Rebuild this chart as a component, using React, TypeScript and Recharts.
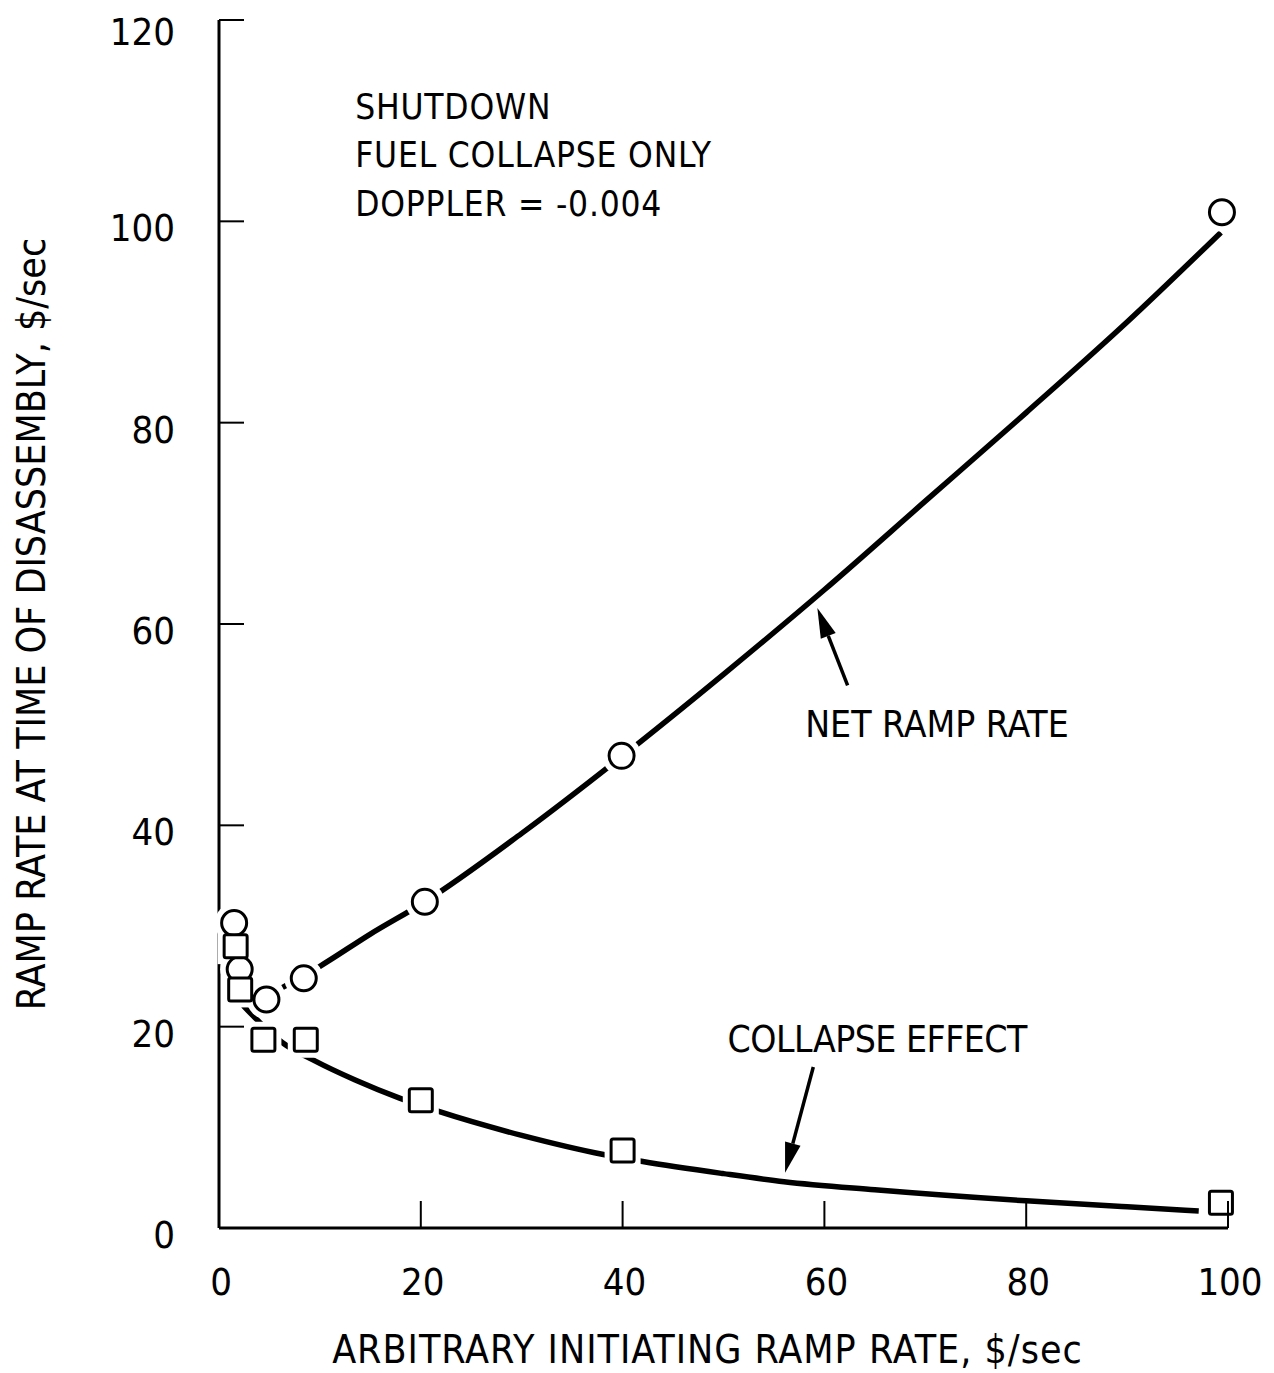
import { ComposedChart, Line, Scatter, XAxis, YAxis, ReferenceDot, ReferenceLine } from "recharts";

const FONT = '"Liberation Sans Narrow", "DejaVu Sans Condensed", "Roboto Condensed", "Liberation Sans", sans-serif';

// measured points (circles = net ramp rate, squares = collapse effect)
const netX = [1.5, 2.05, 4.7, 8.4, 20.4, 39.9, 99.4];
const netY = [30.3, 25.7, 22.7, 24.8, 32.4, 46.9, 100.9];
const collapseX = [1.65, 2.1, 4.4, 8.6, 20.0, 40.0, 99.3];
const collapseY = [28.0, 23.7, 18.7, 18.7, 12.7, 7.7, 2.5];

// hand-drawn fitted curves
const netCurveX = [6.3, 10, 15, 20.4, 30, 40, 50, 60, 70, 80, 90, 99.3];
const netCurveY = [23.9, 26.0, 29.2, 32.4, 39.2, 46.9, 55.0, 63.4, 72.2, 81.0, 90.0, 98.9];
const collapseCurveX = [2.4, 4.06, 6.3, 9.5, 13.5, 17.9, 21.7, 30, 38.1, 42, 50, 56, 65, 80, 90, 97.1];
const collapseCurveY = [22.1, 20.4, 18.4, 16.6, 14.7, 12.9, 11.6, 9.2, 7.3, 6.6, 5.4, 4.6, 3.8, 2.7, 2.1, 1.7];

const xTicks = [0, 20, 40, 60, 80, 100];
const yTicks = [0, 20, 40, 60, 80, 100, 120];

const netPoints = netX.map((x, i) => ({ x, y: netY[i] }));
const collapsePoints = collapseX.map((x, i) => ({ x, y: collapseY[i] }));
const netCurve = netCurveX.map((x, i) => ({ x, y: netCurveY[i] }));
const collapseCurve = collapseCurveX.map((x, i) => ({ x, y: collapseCurveY[i] }));

const YTick = ({ x, y, payload }: any) => (
  <g>
    <line x1={x} x2={x + 25} y1={y} y2={y} stroke="#000" strokeWidth={2} />
    <text x={x - 44} y={y + (payload.value === 120 ? 25 : 20)} textAnchor="end" fontSize={38} fontFamily={FONT} fill="#000">
      {payload.value}
    </text>
  </g>
);

const XTick = ({ x, y, payload }: any) => (
  <g>
    <line x1={x} x2={x} y1={y} y2={y - 27} stroke="#000" strokeWidth={2} />
    <text x={x + 2} y={y + 67} textAnchor="middle" fontSize={38} fontFamily={FONT} fill="#000">
      {payload.value}
    </text>
  </g>
);

const Halo = ({ cx, cy }: any) => <circle cx={cx} cy={cy} r={19.5} fill="#fff" />;
const SquareHalo = ({ cx, cy }: any) => <rect x={cx - 18} y={cy - 18} width={36} height={36} fill="#fff" />;
const Circle = ({ cx, cy }: any) => <circle cx={cx} cy={cy} r={12.5} fill="#fff" stroke="#000" strokeWidth={3} />;
const Square = ({ cx, cy }: any) => (
  <rect x={cx - 11.5} y={cy - 11.5} width={23} height={23} rx={2} fill="#fff" stroke="#000" strokeWidth={3} />
);

const Arrow = ({ x1, y1, x2, y2 }: any) => {
  const dx = x2 - x1;
  const dy = y2 - y1;
  const len = Math.sqrt(dx * dx + dy * dy);
  const ux = dx / len;
  const uy = dy / len;
  const bx = x2 - ux * 30;
  const by = y2 - uy * 30;
  const pts = `${x2},${y2} ${bx - uy * 8},${by + ux * 8} ${bx + uy * 8},${by - ux * 8}`;
  return (
    <g>
      <line x1={x1} y1={y1} x2={bx} y2={by} stroke="#000" strokeWidth={3.5} />
      <polygon points={pts} fill="#000" />
    </g>
  );
};

const textLabel = (lines: string[], size: number, gap: number, spacing: number) => ({ cx, cy }: any) => (
  <text x={cx} y={cy} fontSize={size} fontFamily={FONT} fill="#000" letterSpacing={spacing}>
    {lines.map((l, i) => (
      <tspan key={i} x={cx} dy={i === 0 ? 0 : gap}>
        {l}
      </tspan>
    ))}
  </text>
);

export default function App() {
  return (
    <ComposedChart width={1266} height={1365} margin={{ top: 12, right: 46, left: 0, bottom: 0 }}>
      <XAxis
        dataKey="x"
        type="number"
        domain={[0, 100]}
        ticks={xTicks}
        height={145}
        tickSize={0}
        tickMargin={0}
        tick={<XTick />}
        axisLine={{ stroke: "#000", strokeWidth: 3 }}
        label={(p: any) => (
          <text
            x={p.viewBox.x + p.viewBox.width / 2 - 16}
            y={p.viewBox.y + 135}
            textAnchor="middle"
            fontSize={39}
            letterSpacing={1}
            fontFamily={FONT}
            fill="#000"
          >
            ARBITRARY INITIATING RAMP RATE, $/sec
          </text>
        )}
      />
      <XAxis xAxisId="top" orientation="top" type="number" domain={[0, 100]} height={0} tick={false} axisLine={{ stroke: "#000", strokeWidth: 3 }} />
      <YAxis
        type="number"
        domain={[0, 120]}
        ticks={yTicks}
        width={211}
        tickSize={0}
        tickMargin={0}
        tick={<YTick />}
        axisLine={{ stroke: "#000", strokeWidth: 3 }}
        label={(p: any) => {
          const cx = 37;
          const cy = p.viewBox.y + p.viewBox.height / 2;
          return (
            <text
              x={cx}
              y={cy}
              transform={`rotate(-90, ${cx}, ${cy})`}
              textAnchor="middle"
              fontSize={39}
              fontFamily={FONT}
              fill="#000"
            >
              RAMP RATE AT TIME OF DISASSEMBLY,  $/sec
            </text>
          );
        }}
      />
      <YAxis yAxisId="right" orientation="right" type="number" domain={[0, 120]} width={0} tick={false} axisLine={{ stroke: "#000", strokeWidth: 3 }} />

      <Line data={netCurve} dataKey="y" type="monotone" stroke="#000" strokeWidth={5.5} dot={false} isAnimationActive={false} />
      <Line data={collapseCurve} dataKey="y" type="monotone" stroke="#000" strokeWidth={5.5} dot={false} isAnimationActive={false} />

      <Scatter data={netPoints} dataKey="y" shape={<Halo />} isAnimationActive={false} />
      <Scatter data={collapsePoints} dataKey="y" shape={<SquareHalo />} isAnimationActive={false} />
      <Scatter data={netPoints} dataKey="y" shape={<Circle />} isAnimationActive={false} />
      <Scatter data={collapsePoints} dataKey="y" shape={<Square />} isAnimationActive={false} />

      <ReferenceLine segment={[{ x: 62.3, y: 53.9 }, { x: 59.3, y: 61.6 }]} shape={<Arrow />} />
      <ReferenceLine segment={[{ x: 58.9, y: 16.0 }, { x: 56.1, y: 5.5 }]} shape={<Arrow />} />

      <ReferenceDot x={13.5} y={110.2} r={0} shape={textLabel(["SHUTDOWN", "FUEL COLLAPSE ONLY", "DOPPLER =  -0.004"], 35, 48.5, 0.8)} />
      <ReferenceDot x={58.1} y={48.8} r={0} shape={textLabel(["NET RAMP RATE"], 37, 0, 0)} />
      <ReferenceDot x={50.4} y={17.5} r={0} shape={textLabel(["COLLAPSE EFFECT"], 37, 0, -0.5)} />
    </ComposedChart>
  );
}
